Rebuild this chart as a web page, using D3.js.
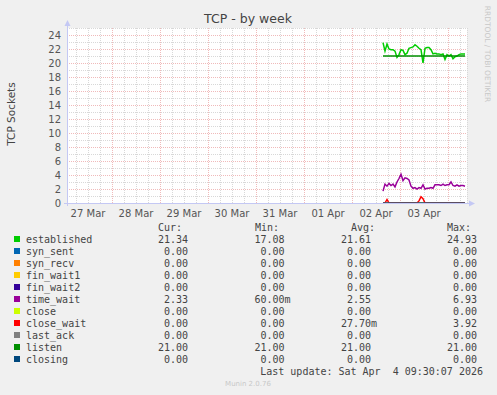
<!DOCTYPE html>
<html>
<head>
<meta charset="utf-8">
<script src="https://cdn.jsdelivr.net/npm/d3@7"></script>
<style>
  html, body { margin: 0; padding: 0; background: #f0f0f0; }
  svg { display: block; }
  text { font-family: 'DejaVu Sans', sans-serif; }
  .mono { font-family: 'DejaVu Sans Mono', monospace; white-space: pre; }
</style>
</head>
<body>
<div id="chart"></div>
<script>
const WIDTH = 497
const HEIGHT = 395
const PLOT = { left: 67, right: 467, top: 28, bottom: 203 }

// series names and colours (legend order = draw order)
const names = ['established', 'syn_sent', 'syn_recv', 'fin_wait1', 'fin_wait2', 'time_wait',
  'close', 'close_wait', 'last_ack', 'listen', 'closing']
const colors = ['#00cc00', '#0066b3', '#ff8000', '#ffcc00', '#330099', '#990099',
  '#ccff00', '#ff0000', '#808080', '#008f00', '#00487d']

// legend stats
const cur = [21.34, 0, 0, 0, 0, 2.33, 0, 0, 0, 21.00, 0]
const min = [17.08, 0, 0, 0, 0, 0.06, 0, 0, 0, 21.00, 0]
const avg = [21.61, 0, 0, 0, 0, 2.55, 0, 0.0277, 0, 21.00, 0]
const max = [24.93, 0, 0, 0, 0, 6.93, 0, 3.92, 0, 21.00, 0]

// time range of the graph (UTC), data is hourly from dataStart
const rangeStart = Date.UTC(2026, 2, 27, 1, 30)
const rangeEnd = Date.UTC(2026, 3, 4, 9, 30)
const dataStart = Date.UTC(2026, 3, 2, 15, 30)

const established = [22.9, 21.7, 22.7, 22.0, 21.9, 21.9, 21.7, 20.8, 21.2, 21.9,
  21.8, 21.2, 21.4, 22.1, 22.2, 22.3, 22.6, 22.4, 22.1, 21.9,
  20.0, 22.1, 22.2, 22.2, 21.9, 21.3, 21.4, 21.3, 21.3, 21.2,
  21.3, 20.5, 21.2, 21.0, 21.2, 20.6, 20.9, 21.0, 21.2, 21.3,
  21.3, 21.3]
const timeWait = [1.7, 2.7, 2.4, 2.8, 2.5, 2.7, 2.3, 3.0, 3.5, 4.1,
  3.2, 3.6, 3.5, 3.3, 2.4, 2.1, 2.2, 2.0, 2.2, 2.1,
  2.6, 2.0, 2.1, 2.1, 2.2, 2.1, 2.6, 2.6, 2.6, 2.5,
  2.7, 2.5, 2.6, 2.6, 3.0, 2.5, 2.4, 2.6, 2.4, 2.5,
  2.5, 2.4]
const closeWait = [0, 0, 0.5, 0, 0, 0, 0, 0, 0, 0,
  0, 0, 0, 0, 0, 0, 0, 0, 0.3, 0.9,
  0.6, 0, 0, 0, 0, 0, 0, 0, 0, 0,
  0, 0, 0, 0, 0, 0, 0, 0, 0, 0,
  0, 0]
const listen = established.map(() => 21.0)
const zeros = established.map(() => 0)

const seriesValues = [established, zeros, zeros, zeros, zeros, timeWait,
  zeros, closeWait, zeros, listen, zeros]

const yTicks = [0, 2, 4, 6, 8, 10, 12, 14, 16, 18, 20, 22, 24]

const x = d3.scaleUtc().domain([rangeStart, rangeEnd]).range([PLOT.left, PLOT.right])
const y = d3.scaleLinear().domain([0, 25]).range([PLOT.bottom, PLOT.top])

const svg = d3.select('#chart').append('svg')
  .attr('width', WIDTH)
  .attr('height', HEIGHT)

svg.append('rect').attr('width', WIDTH).attr('height', HEIGHT).attr('fill', '#f0f0f0')
svg.append('rect')
  .attr('x', PLOT.left).attr('y', PLOT.top)
  .attr('width', PLOT.right - PLOT.left).attr('height', PLOT.bottom - PLOT.top)
  .attr('fill', '#fff')

// grid
const grid = svg.append('g').attr('shape-rendering', 'crispEdges')
const minorX = d3.utcHour.every(6).range(new Date(rangeStart), new Date(rangeEnd))
  .filter(d => d.getUTCHours() !== 0)
const majorX = d3.utcDay.range(new Date(rangeStart), new Date(rangeEnd))
const minorColor = '#d8d8d8'
const majorColor = '#f0baba'

grid.selectAll('.gx').data(minorX).enter().append('line')
  .attr('x1', d => Math.round(x(d)) + 0.5).attr('x2', d => Math.round(x(d)) + 0.5)
  .attr('y1', PLOT.top).attr('y2', PLOT.bottom)
  .attr('stroke', minorColor).attr('stroke-dasharray', '1,1')
grid.selectAll('.gy').data(d3.range(1, 26, 2)).enter().append('line')
  .attr('x1', PLOT.left).attr('x2', PLOT.right)
  .attr('y1', d => Math.round(y(d)) + 0.5).attr('y2', d => Math.round(y(d)) + 0.5)
  .attr('stroke', minorColor).attr('stroke-dasharray', '1,1')
grid.append('line')
  .attr('x1', PLOT.right + 0.5).attr('x2', PLOT.right + 0.5)
  .attr('y1', PLOT.top).attr('y2', PLOT.bottom)
  .attr('stroke', minorColor).attr('stroke-dasharray', '1,1')
grid.selectAll('.mx').data(majorX).enter().append('line')
  .attr('x1', d => Math.round(x(d)) + 0.5).attr('x2', d => Math.round(x(d)) + 0.5)
  .attr('y1', PLOT.top).attr('y2', PLOT.bottom)
  .attr('stroke', majorColor).attr('stroke-dasharray', '1,1')
grid.selectAll('.my').data(yTicks.filter(d => d > 0)).enter().append('line')
  .attr('x1', PLOT.left).attr('x2', PLOT.right)
  .attr('y1', d => Math.round(y(d)) + 0.5).attr('y2', d => Math.round(y(d)) + 0.5)
  .attr('stroke', majorColor).attr('stroke-dasharray', '1,1')

// y tick labels
svg.append('g').selectAll('text').data(yTicks).enter().append('text')
  .attr('x', 61).attr('y', d => y(d) + 3.5)
  .attr('text-anchor', 'end').attr('font-size', 10).attr('fill', '#555')
  .text(d => d)

// x labels at noon of each day
const noons = d3.utcDay.range(new Date(rangeStart - 86400000), new Date(rangeEnd))
  .map(d => new Date(+d + 12 * 3600000))
  .filter(d => x(d) > PLOT.left && x(d) < PLOT.right - 20)
svg.append('g').selectAll('text').data(noons).enter().append('text')
  .attr('x', d => x(d)).attr('y', 217)
  .attr('text-anchor', 'middle').attr('font-size', 10).attr('fill', '#555')
  .text(d => d3.utcFormat('%d %b')(d))

// series lines
const line = d3.line()
  .x((d, i) => x(dataStart + i * 3600000))
  .y(d => y(d))
const seriesG = svg.append('g')
seriesValues.forEach((vals, k) => {
  seriesG.append('path')
    .datum(vals)
    .attr('d', line)
    .attr('fill', 'none')
    .attr('stroke', colors[k])
    .attr('stroke-width', vals === zeros ? 1 : 1.5)
})

// axes with arrows
const axisColor = '#c4c8f4'
svg.append('line').attr('x1', PLOT.left + 0.5).attr('x2', PLOT.left + 0.5)
  .attr('y1', PLOT.bottom + 3).attr('y2', 25).attr('stroke', axisColor)
svg.append('line').attr('x1', PLOT.left - 3).attr('x2', PLOT.right + 3)
  .attr('y1', PLOT.bottom + 0.5).attr('y2', PLOT.bottom + 0.5).attr('stroke', axisColor)
svg.append('path').attr('d', `M${PLOT.left - 2.5},26 L${PLOT.left + 3.5},26 L${PLOT.left + 0.5},20 Z`)
  .attr('fill', axisColor)
svg.append('path').attr('d', `M${PLOT.right + 2},${PLOT.bottom - 2.5} L${PLOT.right + 2},${PLOT.bottom + 3.5} L${PLOT.right + 8},${PLOT.bottom + 0.5} Z`)
  .attr('fill', axisColor)

// titles
svg.append('text').attr('x', 248).attr('y', 23)
  .attr('text-anchor', 'middle').attr('font-size', 12.5).attr('fill', '#444')
  .text('TCP - by week')
svg.append('text')
  .attr('transform', 'translate(15,114) rotate(-90)')
  .attr('text-anchor', 'middle').attr('font-size', 10.5).attr('fill', '#444')
  .text('TCP Sockets')
svg.append('text')
  .attr('transform', 'translate(485,54) rotate(90)')
  .attr('text-anchor', 'middle').attr('font-size', 7.5).attr('fill', '#c8c8c8')
  .text('RRDTOOL / TOBI OETIKER')

// legend
const fmt = v => (v !== 0 && Math.abs(v) < 1)
  ? { num: (v * 1000).toFixed(2), suf: 'm' }
  : { num: v.toFixed(2), suf: '' }
const colEnds = [188, 284.5, 371, 477]
const headers = ['Cur:', 'Min:', 'Avg:', 'Max:']
const headerX = [158, 255, 351, 447]
const legend = svg.append('g').attr('font-size', 10).attr('fill', '#444')

legend.selectAll('.hdr').data(headers).enter().append('text')
  .attr('class', 'mono').attr('x', (d, i) => headerX[i]).attr('y', 231)
  .text(d => d)

names.forEach((name, i) => {
  const ry = 243 + i * 12
  legend.append('rect').attr('x', 14).attr('y', ry - 7).attr('width', 6).attr('height', 6)
    .attr('fill', colors[i])
  legend.append('text').attr('class', 'mono').attr('x', 26).attr('y', ry).text(name)
  ;[cur[i], min[i], avg[i], max[i]].forEach((v, c) => {
    const f = fmt(v)
    legend.append('text').attr('class', 'mono').attr('x', colEnds[c]).attr('y', ry)
      .attr('text-anchor', 'end').text(f.num)
    if (f.suf) {
      legend.append('text').attr('class', 'mono').attr('x', colEnds[c]).attr('y', ry).text(f.suf)
    }
  })
})

legend.append('text').attr('class', 'mono').attr('x', 483).attr('y', 375)
  .attr('text-anchor', 'end').text('Last update: Sat Apr  4 09:30:07 2026')

svg.append('text').attr('x', 248).attr('y', 386)
  .attr('text-anchor', 'middle').attr('font-size', 7).attr('fill', '#c8c8c8')
  .text('Munin 2.0.76')
</script>
</body>
</html>
